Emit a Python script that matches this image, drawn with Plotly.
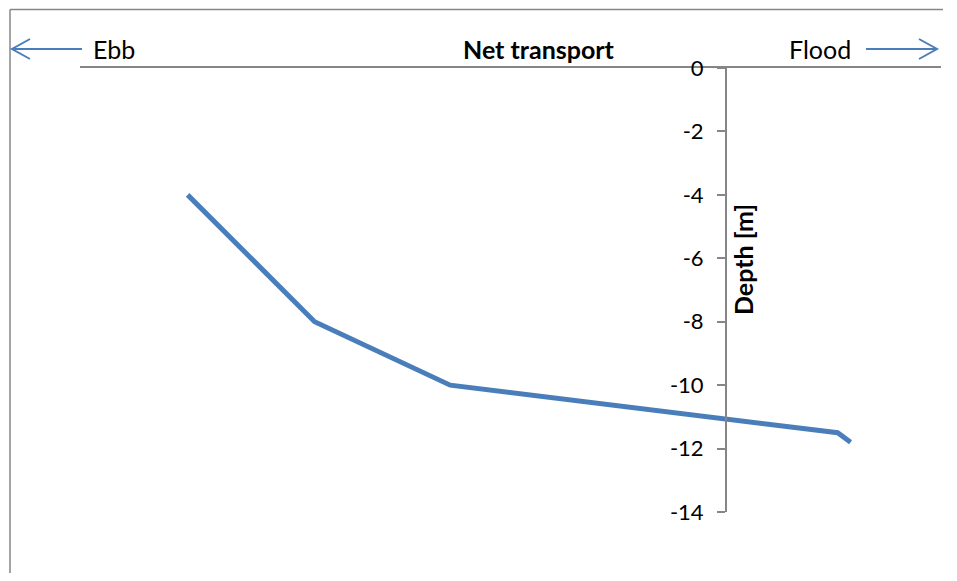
import plotly.graph_objects as go

# Data
transport = [-2.50, -1.91, -1.28, 0.52, 0.58]
depth = [-4, -8, -10, -11.5, -11.8]
y_ticks = [0, -2, -4, -6, -8, -10, -12, -14]

# page has an 8px body margin; figure sized to fit the window without scrollbars
OFF = 8
W, H = 957 - 2 * OFF, 581 - 2 * OFF
L, R, T, B = 80 - OFF, 941 - OFF, 68 - OFF, 512 - OFF


def px(X):
    return (X - OFF - L) / (R - L)


def py(Y):
    return (B - (Y - OFF)) / (B - T)


FONT = "Lato, 'Open Sans', sans-serif"
BLUE = "#4A7EBB"
GRAY = "#868686"

fig = go.Figure()
fig.add_trace(go.Scatter(x=transport, y=depth, mode="lines",
                         line=dict(color=BLUE, width=5), showlegend=False,
                         hoverinfo="skip"))

shapes = []
# outer chart border (left and top edges), kept inside the figure
shapes.append(dict(type="line", xref="paper", yref="paper",
                   x0=px(10), x1=px(10), y0=py(573), y1=py(9.5),
                   line=dict(color=GRAY, width=1.5)))
shapes.append(dict(type="line", xref="paper", yref="paper",
                   x0=px(10), x1=px(943), y0=py(9.5), y1=py(9.5),
                   line=dict(color=GRAY, width=1.5)))
# Ebb arrow
shapes.append(dict(type="path", xref="paper", yref="paper",
                   path=(f"M {px(82)},{py(49)} L {px(12)},{py(49)} "
                         f"M {px(30)},{py(39)} L {px(12)},{py(49)} L {px(30)},{py(59)}"),
                   line=dict(color=BLUE, width=2)))
# Flood arrow
shapes.append(dict(type="path", xref="paper", yref="paper",
                   path=(f"M {px(866)},{py(49)} L {px(937)},{py(49)} "
                         f"M {px(919)},{py(39)} L {px(937)},{py(49)} L {px(919)},{py(59)}"),
                   line=dict(color=BLUE, width=2)))

annotations = [
    dict(text="Ebb", x=px(91), y=py(49), xref="paper", yref="paper",
         xanchor="left", yanchor="middle", showarrow=False,
         font=dict(family=FONT, size=25, color="black")),
    dict(text="<b>Net transport</b>", x=px(539), y=py(49), xref="paper", yref="paper",
         xanchor="center", yanchor="middle", showarrow=False,
         font=dict(family=FONT, size=25, color="black")),
    dict(text="Flood", x=px(820), y=py(49), xref="paper", yref="paper",
         xanchor="center", yanchor="middle", showarrow=False,
         font=dict(family=FONT, size=25, color="black")),
    dict(text="<b>Depth [m]</b>", x=px(743), y=py(260), xref="paper", yref="paper",
         xanchor="center", yanchor="middle", showarrow=False, textangle=-90,
         font=dict(family=FONT, size=25, color="black")),
]

fig.update_layout(
    width=W, height=H,
    margin=dict(l=L, r=W - R, t=T, b=H - B),
    paper_bgcolor="white", plot_bgcolor="white",
    shapes=shapes, annotations=annotations,
    xaxis=dict(range=[-3, 1], side="top", showline=True, linecolor=GRAY, linewidth=1.5,
               showticklabels=False, ticks="", showgrid=False, zeroline=False),
    yaxis=dict(range=[-14, 0], anchor="free", position=0.75, showline=True,
               linecolor=GRAY, linewidth=1.5, ticks="outside", ticklen=8,
               tickcolor=GRAY, tickwidth=1.5, tickvals=y_ticks,
               ticktext=[str(v) for v in y_ticks], ticklabelstandoff=9,
               showgrid=False, zeroline=False,
               tickfont=dict(family=FONT, size=22, color="black")),
)

fig.write_html("out.html")
